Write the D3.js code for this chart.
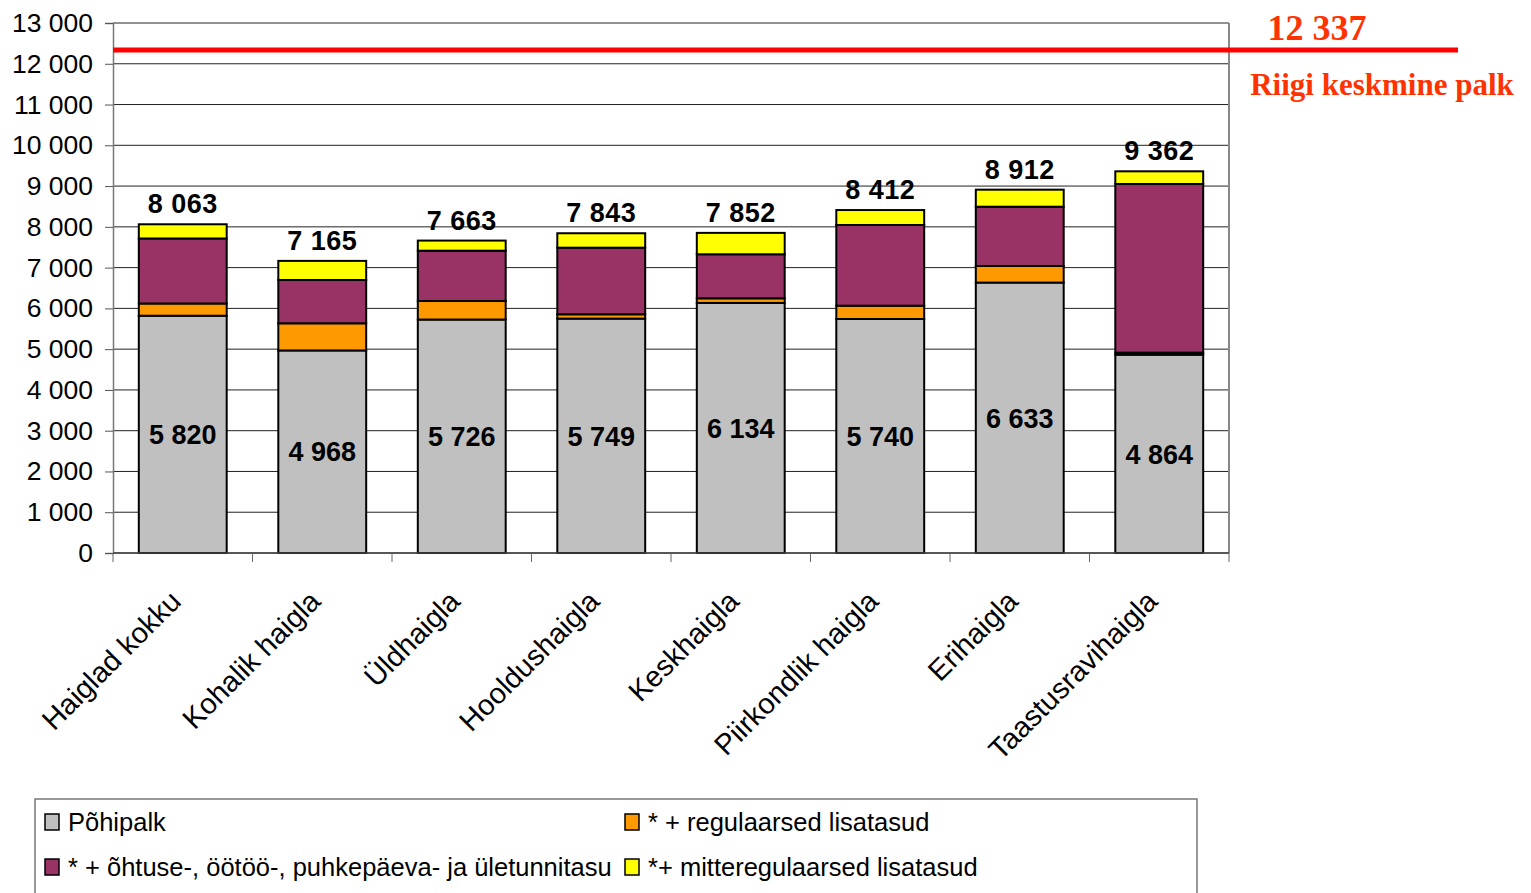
<!DOCTYPE html>
<html>
<head>
<meta charset="utf-8">
<script src="https://cdn.jsdelivr.net/npm/d3@7"></script>
<style>
  html, body { margin: 0; padding: 0; background: #fff; }
  svg { display: block; }
</style>
</head>
<body>
<svg id="chart" width="1531" height="893"></svg>
<script>
// ---- data ----
const categories = ["Haiglad kokku", "Kohalik haigla", "Üldhaigla", "Hooldushaigla",
                    "Keskhaigla", "Piirkondlik haigla", "Erihaigla", "Taastusravihaigla"];
const basePay        = [5820, 4968, 5726, 5749, 6134, 5740, 6633, 4864];
const regularExtra   = [300, 666, 455, 106, 113, 326, 407, 50];
const shiftExtra     = [1595, 1062, 1234, 1634, 1080, 1979, 1454, 4137];
const irregularExtra = [348, 469, 248, 354, 525, 367, 418, 311];
const totals         = [8063, 7165, 7663, 7843, 7852, 8412, 8912, 9362];
const seriesNames = ["Põhipalk", "* + regulaarsed lisatasud",
                     "* + õhtuse-, öötöö-, puhkepäeva- ja ületunnitasu", "*+ mitteregulaarsed lisatasud"];
const yTicks = [0, 1000, 2000, 3000, 4000, 5000, 6000, 7000, 8000, 9000, 10000, 11000, 12000, 13000];
const nationalAverage = 12337;
const nationalLabel = "Riigi keskmine palk";

// ---- layout ----
const colors = ["#C0C0C0", "#FF9900", "#993366", "#FFFF00"];
const svg = d3.select("#chart");
const plot = { left: 113, right: 1229, top: 23, bottom: 553 };

const x = d3.scaleBand().domain(categories).range([plot.left, plot.right])
  .paddingInner(0.37).paddingOuter(0.185);
const y = d3.scaleLinear().domain([0, 13000]).range([plot.bottom, plot.top]);
const fmt = v => d3.format(",")(v).replace(/,/g, " ");

// gridlines
svg.append("g").selectAll("line").data(yTicks).join("line")
  .attr("x1", plot.left).attr("x2", plot.right)
  .attr("y1", d => y(d)).attr("y2", d => y(d))
  .attr("stroke", "#222").attr("stroke-width", 1);

// right border
svg.append("line").attr("x1", plot.right).attr("x2", plot.right)
  .attr("y1", plot.top).attr("y2", plot.bottom)
  .attr("stroke", "#888").attr("stroke-width", 2);

// y axis
const yAxis = svg.append("g").attr("transform", `translate(${plot.left},0)`)
  .call(d3.axisLeft(y).tickValues(yTicks).tickFormat(fmt).tickSize(8).tickPadding(12));
yAxis.select(".domain").attr("stroke", "#777").attr("stroke-width", 1.5);
yAxis.selectAll(".tick line").attr("stroke", "#555");
yAxis.selectAll("text").attr("font-family", "Liberation Sans, Arial, sans-serif")
  .attr("font-size", 26.5).attr("fill", "#000");

// stacked data
const stackData = categories.map((c, i) => ({
  cat: c, s0: basePay[i], s1: regularExtra[i], s2: shiftExtra[i], s3: irregularExtra[i]
}));
const stack = d3.stack().keys(["s0", "s1", "s2", "s3"])(stackData);

svg.append("g").selectAll("g").data(stack).join("g")
  .attr("fill", (d, i) => colors[i])
  .selectAll("rect").data(d => d).join("rect")
  .attr("x", d => x(d.data.cat))
  .attr("width", x.bandwidth())
  .attr("y", d => y(d[1]))
  .attr("height", d => y(d[0]) - y(d[1]))
  .attr("stroke", "#000").attr("stroke-width", 2);

// x axis line & ticks
svg.append("line").attr("x1", plot.left).attr("x2", plot.right)
  .attr("y1", plot.bottom).attr("y2", plot.bottom)
  .attr("stroke", "#444").attr("stroke-width", 1.5);
const boundaries = d3.range(categories.length + 1).map(i => plot.left + i * x.step());
svg.append("g").selectAll("line").data(boundaries).join("line")
  .attr("x1", d => d).attr("x2", d => d)
  .attr("y1", plot.bottom).attr("y2", plot.bottom + 9)
  .attr("stroke", "#666").attr("stroke-width", 1);

// category labels
svg.append("g").selectAll("text").data(categories).join("text")
  .attr("transform", d => `translate(${x(d) + x.bandwidth() / 2},${plot.bottom + 50}) rotate(-45)`)
  .attr("text-anchor", "end")
  .attr("font-family", "Liberation Sans, Arial, sans-serif")
  .attr("font-size", 29)
  .text(d => d);

// base pay labels
svg.append("g").selectAll("text").data(stackData).join("text")
  .attr("x", d => x(d.cat) + x.bandwidth() / 2)
  .attr("y", d => y(d.s0 / 2))
  .attr("dy", "0.36em")
  .attr("text-anchor", "middle")
  .attr("font-family", "Liberation Sans, Arial, sans-serif")
  .attr("font-weight", "bold").attr("font-size", 27)
  .text(d => fmt(d.s0));

// totals labels
svg.append("g").selectAll("text").data(categories).join("text")
  .attr("x", d => x(d) + x.bandwidth() / 2)
  .attr("y", (d, i) => y(totals[i]) - 11)
  .attr("text-anchor", "middle")
  .attr("font-family", "Liberation Sans, Arial, sans-serif")
  .attr("font-weight", "bold").attr("font-size", 27)
  .attr("letter-spacing", 0.5)
  .text((d, i) => fmt(totals[i]));

// national average line
svg.append("line")
  .attr("x1", plot.left).attr("x2", 1458)
  .attr("y1", y(nationalAverage)).attr("y2", y(nationalAverage))
  .attr("stroke", "#FF0000").attr("stroke-width", 5);
svg.append("text").attr("x", 1317).attr("y", 40).attr("text-anchor", "middle")
  .attr("font-family", "Liberation Serif, Times New Roman, serif")
  .attr("font-weight", "bold").attr("font-size", 36).attr("fill", "#FF3300")
  .text(fmt(nationalAverage));
svg.append("text").attr("x", 1382).attr("y", 95).attr("text-anchor", "middle")
  .attr("font-family", "Liberation Serif, Times New Roman, serif")
  .attr("font-weight", "bold").attr("font-size", 31).attr("fill", "#FF3300")
  .text(nationalLabel);

// legend
const legend = svg.append("g");
legend.append("rect").attr("x", 35).attr("y", 799).attr("width", 1162).attr("height", 120)
  .attr("fill", "none").attr("stroke", "#777").attr("stroke-width", 1.5);
const legPos = [[45, 822], [625, 822], [45, 867], [625, 867]];
const li = legend.selectAll("g").data(seriesNames).join("g")
  .attr("transform", (d, i) => `translate(${legPos[i][0]},${legPos[i][1]})`);
li.append("rect").attr("x", 0).attr("y", -8).attr("width", 14).attr("height", 16)
  .attr("fill", (d, i) => colors[i]).attr("stroke", "#000").attr("stroke-width", 1.5);
li.append("text").attr("x", 23).attr("y", 9)
  .attr("font-family", "Liberation Sans, Arial, sans-serif")
  .attr("font-size", 25.5)
  .text(d => d);
</script>
</body>
</html>
